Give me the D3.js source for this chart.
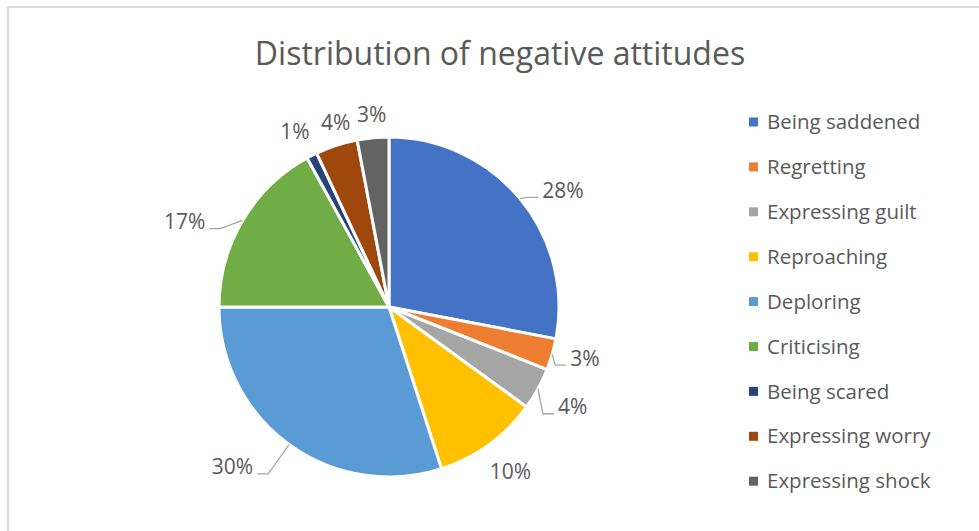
<!DOCTYPE html>
<html lang="en">
<head>
<meta charset="UTF-8">
<title>Distribution of negative attitudes</title>
<script src="https://d3js.org/d3.v7.min.js"></script>
<style>
    body { margin: 0; background: #fff; }
    svg { display: block; font-family: "Open Sans", sans-serif; }
</style>
</head>
<body>
<svg id="chart" width="979" height="531"></svg>
<script>
// chart data
const categories = ["Being saddened", "Regretting", "Expressing guilt", "Reproaching", "Deploring",
                    "Criticising", "Being scared", "Expressing worry", "Expressing shock"];
const values = [28, 3, 4, 10, 30, 17, 1, 4, 3];
const colors = ["#4472C4", "#ED7D31", "#A5A5A5", "#FFC000", "#5B9BD5",
                "#70AD47", "#264478", "#9E480E", "#636363"];

// label layout tweaks (Excel "best fit" placement)
const showLeader = [true, true, true, false, true, true, false, false, false];
const labelNudge = [[16, 14], [-1, -6], [4, 1], [1, -1], [-36, -6], [-28, 19], [-1, 7], [10, 11], [2, 12]];

const width = 979, height = 531;
const cx = 389, cy = 307, radius = 170, labelRadius = 205;
const textColor = "#595959";

const svg = d3.select("#chart");

// outer frame (only top and left edges visible in the crop)
svg.append("path")
    .attr("d", `M8,${height} L8,7 L${width},7`)
    .attr("fill", "none")
    .attr("stroke", "#d9d9d9")
    .attr("stroke-width", 2);

svg.append("text")
    .attr("x", 500)
    .attr("y", 65)
    .attr("text-anchor", "middle")
    .attr("fill", textColor)
    .style("font-size", "32px")
    .text("Distribution of negative attitudes");

const total = d3.sum(values);
const pie = d3.pie().sort(null).value(d => d)(values);
const arc = d3.arc().innerRadius(0).outerRadius(radius);

const g = svg.append("g").attr("transform", `translate(${cx},${cy})`);

g.selectAll("path.slice")
    .data(pie)
    .enter().append("path")
    .attr("class", "slice")
    .attr("d", arc)
    .attr("fill", (d, i) => colors[i])
    .attr("stroke", "#fff")
    .attr("stroke-width", 3)
    .attr("stroke-linejoin", "round");

// data labels
const polar = (a, r) => [r * Math.sin(a), -r * Math.cos(a)];

pie.forEach((d, i) => {
    const mid = (d.startAngle + d.endAngle) / 2;
    const [lx0, ly0] = polar(mid, labelRadius);
    const lx = lx0 + labelNudge[i][0], ly = ly0 + labelNudge[i][1];
    const txt = g.append("text")
        .attr("x", lx)
        .attr("y", ly)
        .attr("dy", "0.35em")
        .attr("text-anchor", "middle")
        .attr("fill", textColor)
        .style("font-size", "21px")
        .text(Math.round(values[i] / total * 100) + "%");

    if (showLeader[i]) {
        const bb = txt.node().getBBox();
        const edge = polar(mid, radius);
        const right = Math.sin(mid) > 0;
        const endX = right ? bb.x - 4 : bb.x + bb.width + 4;
        const endY = ly + 7;
        const elbowX = right ? endX - 11 : endX + 11;
        g.append("polyline")
            .attr("points", [edge, [elbowX, endY], [endX, endY]].map(p => p.join(",")).join(" "))
            .attr("fill", "none")
            .attr("stroke", "#A6A6A6")
            .attr("stroke-width", 1.3);
    }
});

// legend
const legend = svg.append("g").attr("transform", "translate(749,122)");
const row = legend.selectAll("g")
    .data(categories)
    .enter().append("g")
    .attr("transform", (d, i) => `translate(0,${i * 44.9})`);

row.append("rect")
    .attr("x", 0)
    .attr("y", -4.5)
    .attr("width", 9)
    .attr("height", 9)
    .attr("fill", (d, i) => colors[i]);

row.append("text")
    .attr("x", 18)
    .attr("y", 0)
    .attr("dy", "0.35em")
    .attr("fill", textColor)
    .style("font-size", "20.5px")
    .text(d => d);
</script>
</body>
</html>
